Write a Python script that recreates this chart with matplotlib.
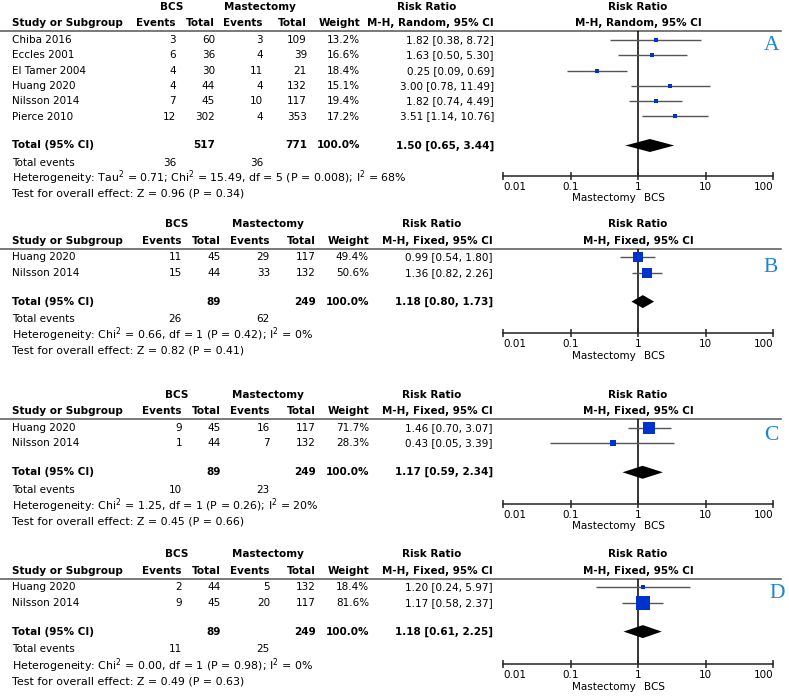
import numpy as np
import matplotlib
matplotlib.use("Agg")
import matplotlib.pyplot as plt

plt.rcParams['font.family'] = 'DejaVu Sans'
plt.rcParams['font.size'] = 7.5

# ---- data ----
# A: random effects, six studies
A_studies = ["Chiba 2016", "Eccles 2001", "El Tamer 2004", "Huang 2020", "Nilsson 2014", "Pierce 2010"]
A_bcs_events = [3, 6, 4, 4, 7, 12]
A_bcs_total = [60, 36, 30, 44, 45, 302]
A_mas_events = [3, 4, 11, 4, 10, 4]
A_mas_total = [109, 39, 21, 132, 117, 353]
A_weight = [13.2, 16.6, 18.4, 15.1, 19.4, 17.2]
A_rr = [1.82, 1.63, 0.25, 3.00, 1.82, 3.51]
A_lo = [0.38, 0.50, 0.09, 0.78, 0.74, 1.14]
A_hi = [8.72, 5.30, 0.69, 11.49, 4.49, 10.76]
A_total = [517, 771]
A_events = [36, 36]
A_pooled = [1.50, 0.65, 3.44]
A_het = r"Heterogeneity: Tau$^2$ = 0.71; Chi$^2$ = 15.49, df = 5 (P = 0.008); I$^2$ = 68%"
A_test = "Test for overall effect: Z = 0.96 (P = 0.34)"

# B, C, D: fixed effects, two studies
two_studies = ["Huang 2020", "Nilsson 2014"]

B_bcs_events = [11, 15]
B_bcs_total = [45, 44]
B_mas_events = [29, 33]
B_mas_total = [117, 132]
B_weight = [49.4, 50.6]
B_rr = [0.99, 1.36]
B_lo = [0.54, 0.82]
B_hi = [1.80, 2.26]
B_total = [89, 249]
B_events = [26, 62]
B_pooled = [1.18, 0.80, 1.73]
B_het = r"Heterogeneity: Chi$^2$ = 0.66, df = 1 (P = 0.42); I$^2$ = 0%"
B_test = "Test for overall effect: Z = 0.82 (P = 0.41)"

C_bcs_events = [9, 1]
C_bcs_total = [45, 44]
C_mas_events = [16, 7]
C_mas_total = [117, 132]
C_weight = [71.7, 28.3]
C_rr = [1.46, 0.43]
C_lo = [0.70, 0.05]
C_hi = [3.07, 3.39]
C_total = [89, 249]
C_events = [10, 23]
C_pooled = [1.17, 0.59, 2.34]
C_het = r"Heterogeneity: Chi$^2$ = 1.25, df = 1 (P = 0.26); I$^2$ = 20%"
C_test = "Test for overall effect: Z = 0.45 (P = 0.66)"

D_bcs_events = [2, 9]
D_bcs_total = [44, 45]
D_mas_events = [5, 20]
D_mas_total = [132, 117]
D_weight = [18.4, 81.6]
D_rr = [1.20, 1.17]
D_lo = [0.24, 0.58]
D_hi = [5.97, 2.37]
D_total = [89, 249]
D_events = [11, 25]
D_pooled = [1.18, 0.61, 2.25]
D_het = r"Heterogeneity: Chi$^2$ = 0.00, df = 1 (P = 0.98); I$^2$ = 0%"
D_test = "Test for overall effect: Z = 0.49 (P = 0.63)"

tick_vals = [0.01, 0.1, 1, 10, 100]
tick_labels = ["0.01", "0.1", "1", "10", "100"]

panels = [
    dict(letter="A", method="Random", studies=A_studies, be=A_bcs_events, bt=A_bcs_total,
         me=A_mas_events, mt=A_mas_total, w=A_weight, rr=A_rr, lo=A_lo, hi=A_hi,
         tot=A_total, ev=A_events, pooled=A_pooled, het=A_het, test=A_test),
    dict(letter="B", method="Fixed", studies=two_studies, be=B_bcs_events, bt=B_bcs_total,
         me=B_mas_events, mt=B_mas_total, w=B_weight, rr=B_rr, lo=B_lo, hi=B_hi,
         tot=B_total, ev=B_events, pooled=B_pooled, het=B_het, test=B_test),
    dict(letter="C", method="Fixed", studies=two_studies, be=C_bcs_events, bt=C_bcs_total,
         me=C_mas_events, mt=C_mas_total, w=C_weight, rr=C_rr, lo=C_lo, hi=C_hi,
         tot=C_total, ev=C_events, pooled=C_pooled, het=C_het, test=C_test),
    dict(letter="D", method="Fixed", studies=two_studies, be=D_bcs_events, bt=D_bcs_total,
         me=D_mas_events, mt=D_mas_total, w=D_weight, rr=D_rr, lo=D_lo, hi=D_hi,
         tot=D_total, ev=D_events, pooled=D_pooled, het=D_het, test=D_test),
]

# ---- layout (pixels) ----
W, H = 789, 699
panel_top = [7, 224.3, 395, 554.3]
het_gap = [14.5, 16.0, 15.7, 16.5]
letter_pos = [(772, 46), (771, 268), (771, 435), (777, 594)]
# column right edges: events, total, events, total, weight, risk ratio; rr header centre; group centres
cols_A = dict(c=[176, 215, 263, 307, 360, 494], rrh=427, bcs=172, mas=260)
cols_B = dict(c=[182, 221, 270, 316, 369, 493], rrh=432, bcs=177, mas=268)
forest_x = (503, 773)
row_step = 15.3

blue = "#0033cc"
letter_col = "#1a84d4"

fig = plt.figure(figsize=(W / 100, H / 100), dpi=100)
lay = fig.add_axes([0, 0, 1, 1])
lay.set_xlim(0, W)
lay.set_ylim(H, 0)
lay.axis("off")

for k, p in enumerate(panels):
    cols = cols_A if k == 0 else cols_B
    c = cols["c"]
    top = panel_top[k]
    y_study = top + 16.4
    y_line = top + 24.3
    rows = [top + 33 + i * row_step for i in range(len(p["studies"]))]
    y_total = rows[-1] + 29
    y_ev = y_total + 17.3
    y_het = y_ev + het_gap[k]
    y_test = y_het + 16.0
    y_axis = y_het - 1.8

    # headers
    lay.text(cols["bcs"], top, "BCS", ha="center", va="center", weight="bold")
    lay.text(cols["mas"], top, "Mastectomy", ha="center", va="center", weight="bold")
    lay.text(cols["rrh"], top, "Risk Ratio", ha="center", va="center", weight="bold")
    lay.text(12, y_study, "Study or Subgroup", ha="left", va="center", weight="bold")
    for x, lab in zip(c, ["Events", "Total", "Events", "Total", "Weight",
                          f"M-H, {p['method']}, 95% CI"]):
        lay.text(x, y_study, lab, ha="right", va="center", weight="bold")
    fx_one = (forest_x[0] + forest_x[1]) / 2
    lay.text(fx_one, top, "Risk Ratio", ha="center", va="center", weight="bold")
    lay.text(fx_one, y_study, f"M-H, {p['method']}, 95% CI", ha="center", va="center", weight="bold")
    lay.plot([0, 781], [y_line, y_line], color="#555555", lw=1.1)

    # study rows
    for i, y in enumerate(rows):
        lay.text(12, y, p["studies"][i], ha="left", va="center")
        vals = [p["be"][i], p["bt"][i], p["me"][i], p["mt"][i]]
        for x, v in zip(c[:4], vals):
            lay.text(x, y, str(v), ha="right", va="center")
        lay.text(c[4], y, f"{p['w'][i]:.1f}%", ha="right", va="center")
        lay.text(c[5], y, f"{p['rr'][i]:.2f} [{p['lo'][i]:.2f}, {p['hi'][i]:.2f}]",
                 ha="right", va="center")

    # total rows
    lay.text(12, y_total, "Total (95% CI)", ha="left", va="center", weight="bold")
    lay.text(c[1], y_total, str(p["tot"][0]), ha="right", va="center", weight="bold")
    lay.text(c[3], y_total, str(p["tot"][1]), ha="right", va="center", weight="bold")
    lay.text(c[4], y_total, "100.0%", ha="right", va="center", weight="bold")
    pr, pl, ph = p["pooled"]
    lay.text(c[5], y_total, f"{pr:.2f} [{pl:.2f}, {ph:.2f}]", ha="right", va="center",
             weight="bold")
    lay.text(12, y_ev, "Total events", ha="left", va="center")
    lay.text(c[0], y_ev, str(p["ev"][0]), ha="right", va="center")
    lay.text(c[2], y_ev, str(p["ev"][1]), ha="right", va="center")
    lay.text(12, y_het, p["het"], ha="left", va="center", fontsize=7.9)
    lay.text(12, y_test, p["test"], ha="left", va="center", fontsize=7.9)

    lx, ly = letter_pos[k]
    lay.text(lx, ly, p["letter"], ha="center", va="center", color=letter_col,
             fontsize=15.5, family="Liberation Serif")

    # forest plot
    ax = fig.add_axes([forest_x[0] / W, 1 - y_axis / H,
                       (forest_x[1] - forest_x[0]) / W, (y_axis - y_line) / H])
    ax.set_xscale("log")
    ax.set_xlim(0.01, 100)
    ax.set_ylim(y_axis, y_line)
    ax.patch.set_alpha(0)
    for s in ["top", "left", "right"]:
        ax.spines[s].set_visible(False)
    ax.spines["bottom"].set_linewidth(1.1)
    ax.spines["bottom"].set_color("#222222")
    ax.set_yticks([])
    ax.set_xticks(tick_vals)
    ax.set_xticklabels(tick_labels)
    ax.minorticks_off()
    ax.tick_params(axis="x", direction="inout", length=6, width=1.1, pad=1.5,
                   labelsize=7.5, color="#222222")
    labs = ax.get_xticklabels()
    labs[0].set_ha("left")
    labs[-1].set_ha("right")
    ax.axvline(1, color="black", lw=1.1, zorder=1)

    ax.hlines(rows, p["lo"], p["hi"], color="#555555", lw=1.0, zorder=2)
    for i, y in enumerate(rows):
        side = (2 + 0.15 * p["w"][i]) * 0.72
        ax.plot(p["rr"][i], y, marker="s", ms=side, color=blue, mec=blue, mew=0,
                zorder=3)
    ax.fill([pl, pr, ph, pr], [y_total, y_total - 6.5, y_total, y_total + 6.5],
            color="black", lw=0, zorder=3)

    ax.annotate("Mastectomy", xy=(1, 0), xycoords=("data", "axes fraction"),
                xytext=(-1.5, -16.5), textcoords="offset points", ha="right", va="center")
    ax.annotate("BCS", xy=(1, 0), xycoords=("data", "axes fraction"),
                xytext=(4.5, -16.5), textcoords="offset points", ha="left", va="center")

fig.savefig("out.png", dpi=100)
